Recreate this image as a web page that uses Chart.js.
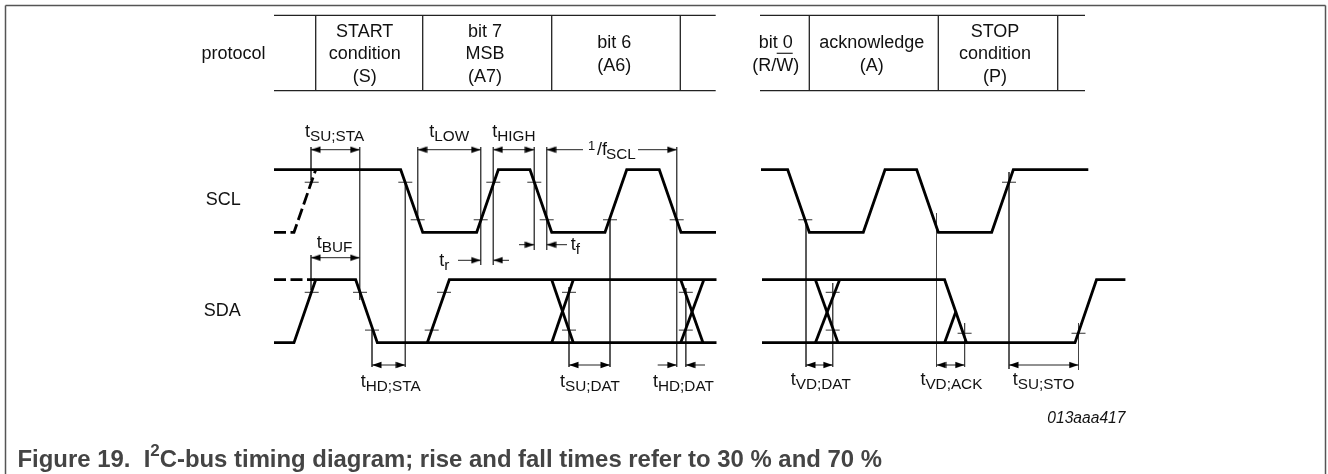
<!DOCTYPE html>
<html>
<head>
<meta charset="utf-8">
<title>I2C-bus timing diagram</title>
<script src="https://cdn.jsdelivr.net/npm/chart.js@4"></script>
<style>
  html, body { margin: 0; padding: 0; background: #fff; }
  canvas { display: block; }
</style>
</head>
<body>
<canvas id="timing" width="1328" height="474"></canvas>
<script>
// waveforms: time along the diagram, level 1 = high, 0 = low
const sclEntryTime = [274, 294, 315.7];
const sclEntryLevel = [0, 0, 1];
const sclFirstTime = [274, 400.7, 422.7, 476.7, 498.3, 530, 551.7, 605, 626.7, 659.3, 681, 716];
const sclFirstLevel = [1, 1, 0, 0, 1, 1, 0, 0, 1, 1, 0, 0];
const sclLastTime = [761, 787.7, 809.3, 863.3, 885, 916.7, 938.3, 991.7, 1013.3, 1088.3];
const sclLastLevel = [1, 1, 0, 0, 1, 1, 0, 0, 1, 1];

const sdaEntryTime = [274, 315];
const sdaEntryLevel = [1, 1];
const sdaStartTime = [274, 294, 315.7, 355.7, 377.3, 716.5];
const sdaStartLevel = [0, 0, 1, 1, 0, 0];
const sdaBitTime = [427.3, 449.3, 716.5];
const sdaBitLevel = [0, 1, 1];
const sdaCrossFallTime = [[551.7, 573.3], [680.7, 703], [815.4, 838]];
const sdaCrossRiseTime = [[551.7, 573.3], [680.7, 703.8], [815.4, 839.6]];
const sdaAckHighTime = [762, 944.6, 966.5];
const sdaAckHighLevel = [1, 1, 0];
const sdaAckLowTime = [762, 1075, 1096.5, 1125.4];
const sdaAckLowLevel = [0, 0, 1, 1];
const sdaAckRiseTime = [944.6, 956];
const sdaAckRiseLevel = [0, 0.5];

// threshold marks on the edges
const sclUpperMarks = [311.7, 405.3, 493.3, 534.3, 1009];
const sclLowerMarks = [417.7, 480.7, 546.7, 610, 676.7, 805.3];
const sdaUpperMarks = [311.7, 360, 444, 569, 685.8, 832.7];
const sdaLowerMarks = [372, 431.7, 569, 685.8, 832.7];
const sdaStopMarks = [964.6, 1078.5];

// timing guides
const guideTime = [311, 311, 359.7, 405.3, 372, 417.7, 480.7, 493.3, 534.3, 546.7, 569, 610, 676.7, 685.8, 806, 832.7, 936.5, 964.6, 1009, 1078.5];
const guideTop = [147, 255, 147, 182, 330, 147, 147, 147, 147, 147, 287, 220, 147, 288, 220, 283, 213, 323, 172, 323];
const guideBottom = [180, 290, 300, 367, 367, 220, 265, 265, 250, 250, 367, 367, 367, 367, 367, 367, 367, 367, 369, 370];

// dimensions with a head on both ends
const spanFrom = [311, 417.7, 493.3, 311, 372, 569, 806, 936.5, 1009];
const spanTo = [359.7, 480.7, 534.3, 359.7, 405.3, 610, 832.7, 964.6, 1078.5];
const spanLine = [149.7, 149.7, 149.7, 257.7, 365, 365, 365, 365, 365];

// dimensions with a single head at the tip
const leaderTail = [583, 638, 458, 509, 519, 567, 657.7, 705];
const leaderTip = [546.7, 676.7, 480.7, 493.3, 534.3, 546.7, 676.7, 685.8];
const leaderLine = [149.7, 149.7, 260.3, 260.3, 244.7, 244.7, 365, 365];

// protocol table
const tableDividers = [315.7, 422.7, 551.7, 680.3, 809.3, 938.3, 1057.7];
const tableTop = 15.3;
const tableBottom = 90.7;
const tableFirst = [274, 715.7];
const tableLast = [760, 1085];

const cellLines = [
  { cx: 364.7, lines: ['START', 'condition', '(S)'] },
  { cx: 485, lines: ['bit 7', 'MSB', '(A7)'] },
  { cx: 614.3, lines: ['bit 6', '(A6)'] },
  { cx: 775.7, lines: ['bit 0', '(R/W)'] },
  { cx: 871.7, lines: ['acknowledge', '(A)'] },
  { cx: 995, lines: ['STOP', 'condition', '(P)'] }
];
const signalNames = [
  { text: 'protocol', cx: 233.5, y: 59 },
  { text: 'SCL', cx: 223.3, y: 205 },
  { text: 'SDA', cx: 222.3, y: 316 }
];
const symbols = [
  { sub: 'SU;STA', x: 305, y: 137 },
  { sub: 'LOW', x: 429.3, y: 137 },
  { sub: 'HIGH', x: 492.3, y: 137 },
  { sub: 'BUF', x: 316.7, y: 248 },
  { sub: 'r', x: 439.3, y: 266 },
  { sub: 'f', x: 570.7, y: 250 },
  { sub: 'HD;STA', x: 360.7, y: 387 },
  { sub: 'SU;DAT', x: 560, y: 387 },
  { sub: 'HD;DAT', x: 653, y: 387 },
  { sub: 'VD;DAT', x: 790.8, y: 385 },
  { sub: 'VD;ACK', x: 920.4, y: 385 },
  { sub: 'SU;STO', x: 1012.7, y: 385 }
];

const FONT = '"Liberation Sans", Arial, sans-serif';
const INK = '#111';

const zip = (xs, ys) => xs.map((x, i) => ({ x: x, y: ys[i] }));

// axis where level 1 and level 0 land on the given heights of the 474 tall plot
function levelAxis(highAt, lowAt) {
  const unit = lowAt - highAt;
  const max = 1 + highAt / unit;
  return { type: 'linear', display: false, min: max - 474 / unit, max: max };
}

function wave(points, axis, dashed) {
  return {
    data: points, yAxisID: axis, showLine: true, pointRadius: 0, borderColor: '#000',
    borderWidth: 2.8, borderDash: dashed ? [12, 4.5] : [], borderJoinStyle: 'miter', borderCapStyle: 'butt'
  };
}

function marks(times, level, axis) {
  return {
    data: times.map(t => ({ x: t, y: level })), yAxisID: axis, showLine: false,
    pointStyle: 'line', pointRadius: 7, pointBorderWidth: 1, pointBorderColor: '#333'
  };
}

// thin line pieces, broken up with nulls
function pieces(list, color, width) {
  const data = [];
  list.forEach(p => { data.push(p[0], p[1], { x: null, y: null }); });
  return { data: data, showLine: true, spanGaps: false, pointRadius: 0, borderColor: color, borderWidth: width };
}

// the tip sits on the centre of the canvas, so the head lands exactly on the data point
const head = document.createElement('canvas');
head.width = 20;
head.height = 8;
const hc = head.getContext('2d');
hc.fillStyle = '#000';
hc.beginPath();
hc.moveTo(10, 4);
hc.lineTo(0.5, 0.8);
hc.lineTo(0.5, 7.2);
hc.closePath();
hc.fill();

function heads(tips) {
  return {
    data: tips.map(t => ({ x: t.x, y: t.y })), showLine: false, pointStyle: head, pointRadius: 5,
    pointRotation: tips.map(t => t.dir > 0 ? 0 : 180)
  };
}

const tips = [];
spanFrom.forEach((from, i) => {
  tips.push({ x: from, y: spanLine[i], dir: -1 }, { x: spanTo[i], y: spanLine[i], dir: 1 });
});
leaderTip.forEach((tip, i) => {
  tips.push({ x: tip, y: leaderLine[i], dir: tip > leaderTail[i] ? 1 : -1 });
});

const tableLines = [
  [{ x: tableFirst[0], y: tableTop }, { x: tableFirst[1], y: tableTop }],
  [{ x: tableFirst[0], y: tableBottom }, { x: tableFirst[1], y: tableBottom }],
  [{ x: tableLast[0], y: tableTop }, { x: tableLast[1], y: tableTop }],
  [{ x: tableLast[0], y: tableBottom }, { x: tableLast[1], y: tableBottom }]
].concat(tableDividers.map(d => [{ x: d, y: tableTop }, { x: d, y: tableBottom }]));

const guideLines = guideTime.map((t, i) => [{ x: t, y: guideTop[i] }, { x: t, y: guideBottom[i] }]);
const dimLines = spanFrom.map((f, i) => [{ x: f, y: spanLine[i] }, { x: spanTo[i], y: spanLine[i] }])
  .concat(leaderTail.map((t, i) => [{ x: t, y: leaderLine[i] }, { x: leaderTip[i], y: leaderLine[i] }]));
const overline = [[{ x: 776.7, y: 53.3 }, { x: 792.7, y: 53.3 }]];
const frame = [[{ x: 5.5, y: 474 }, { x: 5.5, y: 5.5 }], [{ x: 5.5, y: 5.5 }, { x: 1325.5, y: 5.5 }], [{ x: 1325.5, y: 5.5 }, { x: 1325.5, y: 474 }]];

const textPlugin = {
  id: 'diagramText',
  afterDraw(chart) {
    const c = chart.ctx;
    const px = v => chart.scales.x.getPixelForValue(v);
    const py = v => chart.scales.y.getPixelForValue(v);
    const put = (text, x, y, font, align, color) => {
      c.font = font + ' ' + FONT;
      c.textAlign = align || 'left';
      c.fillStyle = color || INK;
      c.fillText(text, px(x), py(y));
      return c.measureText(text).width;
    };
    c.save();
    c.textBaseline = 'alphabetic';

    const rowsThree = [36.7, 59.3, 81.7];
    const rowsTwo = [47.7, 71];
    cellLines.forEach(cell => {
      const rows = cell.lines.length === 3 ? rowsThree : rowsTwo;
      cell.lines.forEach((line, i) => put(line, cell.cx, rows[i], '18px', 'center'));
    });
    signalNames.forEach(n => put(n.text, n.cx, n.y, '18px', 'center'));

    symbols.forEach(s => {
      const w = put('t', s.x, s.y, '18px');
      put(s.sub, s.x + w, s.y + 3.5, '15.3px');
    });

    // 1/fSCL
    put('1', 588, 150, '13px');
    put('/f', 597, 155, '18px');
    put('SCL', 606, 159, '15.3px');

    put('013aaa417', 1125.4, 423, 'italic 15.6px', 'right');

    // caption
    let x = 17.5;
    x += put('Figure 19.  I', x, 467, 'bold 23.9px', 'left', '#444');
    x += put('2', x, 456, 'bold 17px', 'left', '#444');
    put('C-bus timing diagram; rise and fall times refer to 30 % and 70 %', x, 467, 'bold 23.9px', 'left', '#444');
    c.restore();
  }
};

new Chart(document.getElementById('timing'), {
  type: 'scatter',
  data: {
    datasets: [
      wave(zip(sclEntryTime, sclEntryLevel), 'scl', true),
      wave(zip(sclFirstTime, sclFirstLevel), 'scl'),
      wave(zip(sclLastTime, sclLastLevel), 'scl'),
      wave(zip(sdaEntryTime, sdaEntryLevel), 'sda', true),
      wave(zip(sdaStartTime, sdaStartLevel), 'sda'),
      wave(zip(sdaBitTime, sdaBitLevel), 'sda'),
      wave(zip(sdaAckHighTime, sdaAckHighLevel), 'sda'),
      wave(zip(sdaAckLowTime, sdaAckLowLevel), 'sda'),
      wave(zip(sdaAckRiseTime, sdaAckRiseLevel), 'sda'),
      ...sdaCrossFallTime.map(t => wave(zip(t, [1, 0]), 'sda')),
      ...sdaCrossRiseTime.map(t => wave(zip(t, [0, 1]), 'sda')),
      marks(sclUpperMarks, 0.8, 'scl'),
      marks(sclLowerMarks, 0.2, 'scl'),
      marks(sdaUpperMarks, 0.8, 'sda'),
      marks(sdaLowerMarks, 0.2, 'sda'),
      marks(sdaStopMarks, 0.15, 'sda'),
      heads(tips),
      pieces(dimLines, '#222', 1),
      pieces(guideLines, '#444', 1),
      pieces(tableLines, '#222', 1.3),
      pieces(overline, '#222', 1.2),
      pieces(frame, '#555', 1.5)
    ]
  },
  options: {
    responsive: false,
    animation: false,
    events: [],
    layout: { padding: 0, autoPadding: false },
    plugins: { legend: { display: false }, tooltip: { enabled: false }, title: { display: false } },
    scales: {
      x: { type: 'linear', display: false, min: 0, max: 1328 },
      y: { type: 'linear', display: false, min: 0, max: 474, reverse: true },
      scl: levelAxis(169.7, 232.3),
      sda: levelAxis(279.7, 342.7)
    }
  },
  plugins: [textPlugin]
});
</script>
</body>
</html>
